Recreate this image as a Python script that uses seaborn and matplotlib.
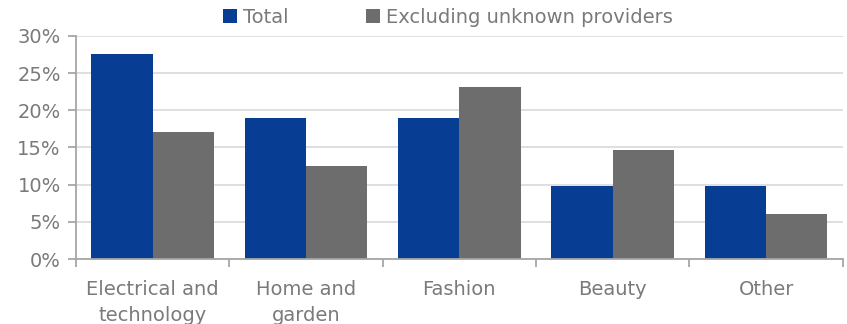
import numpy as np
import pandas as pd
import matplotlib
matplotlib.use("Agg")
import matplotlib.pyplot as plt
import seaborn as sns

categories = ["Electrical and\ntechnology", "Home and\ngarden", "Fashion", "Beauty", "Other"]
series_names = ["Total", "Excluding unknown providers"]
total = [27.6, 19.0, 18.9, 9.8, 9.8]
excluding = [17.1, 12.5, 23.2, 14.7, 6.1]
y_ticks = [0, 5, 10, 15, 20, 25, 30]

colors = {"Total": "#073d93", "Excluding unknown providers": "#6d6d6d"}
text_color = "#7a7a7a"
axis_color = "#a6a6a6"

df = pd.DataFrame({
    "category": categories * 2,
    "series": [series_names[0]] * len(categories) + [series_names[1]] * len(categories),
    "value": total + excluding,
})

sns.set_theme(style="white")
plt.rcParams["font.family"] = ["DejaVu Sans"]

fig = plt.figure(figsize=(8.47, 3.24), dpi=100)
ax = fig.add_axes([0.0897, 0.2006, 0.9053, 0.6884])

sns.barplot(data=df, x="category", y="value", hue="series", order=categories,
            hue_order=series_names, palette=colors, width=0.8, saturation=1,
            errorbar=None, ax=ax, linewidth=0)

ax.set_ylim(0, 30)
ax.set_xlim(-0.5, len(categories) - 0.5)
ax.set_yticks(y_ticks)
ax.set_yticklabels([f"{t}%" for t in y_ticks])
ax.yaxis.grid(True, color="#d9d9d9", lw=1.2)
ax.set_axisbelow(True)
ax.set_xlabel("")
ax.set_ylabel("")

for s in ["top", "right"]:
    ax.spines[s].set_visible(False)
for s in ["left", "bottom"]:
    ax.spines[s].set_color(axis_color)
    ax.spines[s].set_linewidth(1.3)

fs = 14
ax.tick_params(axis="y", which="major", left=True, length=6, width=1.3, color=axis_color,
               labelsize=fs, labelcolor=text_color, pad=5)
ax.tick_params(axis="x", which="major", bottom=False, labelsize=fs, labelcolor=text_color, pad=9)
for lab in ax.get_xticklabels():
    lab.set_linespacing(1.5)
ax.set_xticks(np.arange(-0.5, len(categories), 1.0), minor=True)
ax.tick_params(axis="x", which="minor", bottom=True, length=6, width=1.3, color=axis_color)

# legend sits a bit left of centre, just above the plot
leg = ax.legend(loc="lower center", bbox_to_anchor=(0.485, 1.005), ncol=2, frameon=False,
                fontsize=fs, handlelength=0.7, handleheight=0.7, handletextpad=0.3,
                columnspacing=4.0, borderaxespad=0)
for t in leg.get_texts():
    t.set_color(text_color)

fig.savefig("out.png", dpi=100)
plt.close(fig)
